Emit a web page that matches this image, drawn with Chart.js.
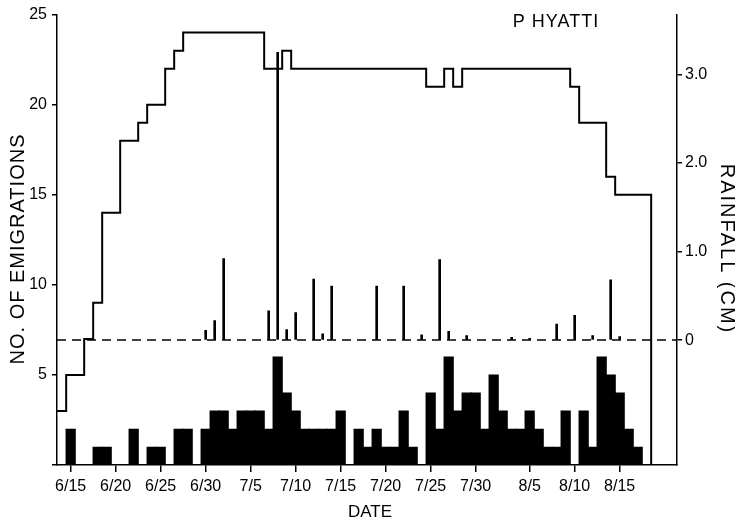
<!DOCTYPE html>
<html>
<head>
<meta charset="utf-8">
<script src="https://cdn.jsdelivr.net/npm/chart.js@4"></script>
<style>
  html, body { margin: 0; padding: 0; background: #fff; }
  #wrap { width: 735px; height: 522px; }
</style>
</head>
<body>
<div id="wrap"><canvas id="chart" width="735" height="522"></canvas></div>
<script>
// 날짜 축: 6/15 = 0일
const tickDays = [0, 5, 10, 15, 20, 25, 30, 35, 40, 45, 51, 56, 61];
const tickLabels = ['6/15', '6/20', '6/25', '6/30', '7/5', '7/10', '7/15', '7/20', '7/25', '7/30', '8/5', '8/10', '8/15'];

// 일별 이주 수 (6/15 부터)
const emigrations = [2, 0, 0, 1, 1, 0, 0, 2, 0, 1,
                     1, 0, 2, 2, 0, 2, 3, 3, 2, 3,
                     3, 3, 2, 6, 4, 3, 2, 2, 2, 2,
                     3, 0, 2, 1, 2, 1, 1, 3, 1, 0,
                     4, 2, 6, 3, 4, 4, 2, 5, 3, 2,
                     2, 3, 2, 1, 1, 3, 0, 3, 1, 6,
                     5, 4, 2, 1];

// 계단선 (6/14 부터, 마지막 값은 끝)
const stepStart = -1;
const residents = [3, 5, 5, 7, 9, 14, 14, 18, 18, 19, 20, 20, 22, 23,
                   24, 24, 24, 24, 24, 24, 24, 24, 24,
                   22, 22, 23,
                   22, 22, 22, 22, 22, 22, 22, 22, 22, 22, 22, 22, 22, 22, 22,
                   21, 21, 22, 21,
                   22, 22, 22, 22, 22, 22, 22, 22, 22, 22, 22, 22,
                   21, 19, 19, 19, 16, 15, 15, 15, 15, 0];

// 강우량 (cm)
const rainDays = [15, 16, 17, 22, 23, 24, 25, 27, 28, 29, 34, 37, 39, 41, 42, 44, 49, 51, 54, 56, 58, 60, 61];
const rainCm   = [0.11, 0.22, 0.92, 0.33, 3.25, 0.12, 0.31, 0.69, 0.07, 0.61, 0.61, 0.61, 0.06, 0.91, 0.10, 0.05, 0.03, 0.02, 0.18, 0.28, 0.05, 0.68, 0.04];
const rainTicks = [0, 1, 2, 3];

// 축 범위
const xMin = -1.52, xMax = 67.37;
const rainMin = -1.41, rainMax = 3.675;

Chart.defaults.font.family = "'Liberation Sans', Arial, sans-serif";
Chart.defaults.color = '#000';

// 축 제목 / 라벨 그리기
const textPlugin = {
    id: 'texts',
    afterDraw(chart) {
        const ctx = chart.ctx;
        ctx.save();
        ctx.fillStyle = '#000';
        ctx.textAlign = 'center';
        ctx.textBaseline = 'middle';

        ctx.font = "20px 'Liberation Sans'";
        ctx.letterSpacing = '1px';
        ctx.save();
        ctx.translate(18, 249);
        ctx.rotate(-Math.PI / 2);
        ctx.fillText('NO. OF EMIGRATIONS', 0, 0);
        ctx.restore();

        ctx.letterSpacing = '2px';
        ctx.save();
        ctx.translate(727, 249);
        ctx.rotate(Math.PI / 2);
        ctx.fillText('RAINFALL (CM)', 0, 0);
        ctx.restore();

        ctx.letterSpacing = '0px';
        ctx.font = "17px 'Liberation Sans'";
        ctx.fillText('DATE', 370, 512);

        ctx.letterSpacing = '1px';
        ctx.font = "18px 'Liberation Sans'";
        ctx.fillText('P HYATTI', 556, 22);
        ctx.restore();
    }
};

const axisStyle = {
    grid: { display: true, drawOnChartArea: false, color: '#000', lineWidth: 1.5, tickLength: 5 },
    border: { display: true, color: '#000', width: 1.5 }
};

new Chart(document.getElementById('chart'), {
    type: 'bar',
    data: {
        datasets: [
            {
                type: 'line',
                label: 'step',
                data: residents.map((v, i) => ({ x: stepStart + i - 0.5, y: v })),
                stepped: 'before',
                borderColor: '#000',
                borderWidth: 2,
                pointRadius: 0,
                fill: false,
                yAxisID: 'y',
                order: 0
            },
            {
                type: 'bar',
                label: 'rain',
                data: rainDays.map((d, i) => ({ x: d, y: rainCm[i] })),
                backgroundColor: '#000',
                barThickness: 2,
                grouped: false,
                yAxisID: 'y2',
                order: 1
            },
            {
                type: 'bar',
                label: 'emigrations',
                data: emigrations.map((v, i) => ({ x: i, y: v })).filter(p => p.y > 0),
                backgroundColor: '#000',
                barThickness: 9.6,
                grouped: false,
                yAxisID: 'y',
                order: 2
            },
            {
                type: 'line',
                label: 'zero',
                data: [{ x: xMin, y: 0 }, { x: xMax, y: 0 }],
                borderColor: '#000',
                borderWidth: 1.5,
                borderDash: [9, 6],
                pointRadius: 0,
                yAxisID: 'y2',
                order: 3
            }
        ]
    },
    options: {
        responsive: false,
        animation: false,
        layout: { padding: { top: 14, left: 0, right: 0, bottom: 0 } },
        plugins: { legend: { display: false }, tooltip: { enabled: false } },
        scales: {
            x: {
                type: 'linear',
                min: xMin,
                max: xMax,
                offset: false,
                grid: { display: true, drawOnChartArea: false, offset: false, color: '#000', lineWidth: 1.5, tickLength: 7 },
                border: { display: true, color: '#000', width: 1.5 },
                afterBuildTicks: scale => { scale.ticks = tickDays.map(v => ({ value: v })); },
                afterFit: scale => { scale.height = 57; },
                ticks: {
                    autoSkip: false,
                    maxRotation: 0,
                    padding: 5,
                    font: { size: 16 },
                    callback: v => tickLabels[tickDays.indexOf(v)]
                }
            },
            y: {
                position: 'left',
                min: 0,
                max: 25,
                ...axisStyle,
                afterFit: scale => { scale.width = 57; },
                ticks: {
                    stepSize: 5,
                    padding: 5,
                    font: { size: 16 },
                    callback: v => (v === 0 ? '' : v)
                }
            },
            y2: {
                position: 'right',
                min: rainMin,
                max: rainMax,
                ...axisStyle,
                afterBuildTicks: scale => { scale.ticks = rainTicks.map(v => ({ value: v })); },
                afterFit: scale => { scale.width = 58; },
                ticks: {
                    padding: 3,
                    font: { size: 16 },
                    callback: v => (v === 0 ? '0' : v.toFixed(1))
                }
            }
        }
    },
    plugins: [textPlugin]
});
</script>
</body>
</html>
